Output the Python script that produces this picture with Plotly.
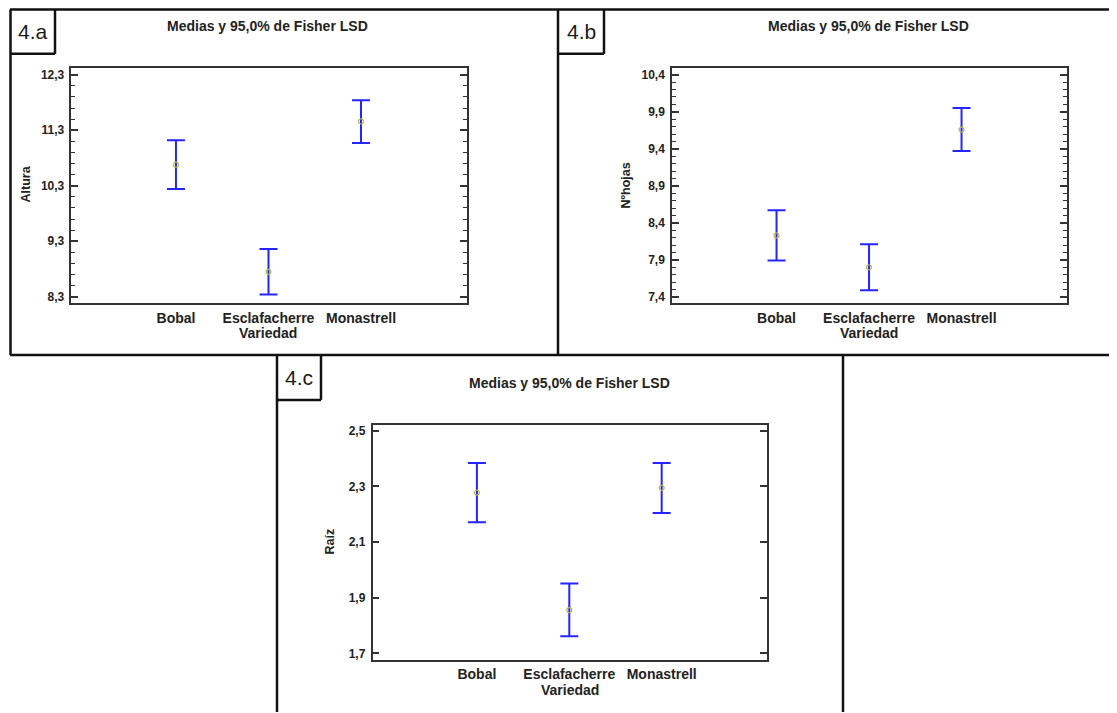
import plotly.graph_objects as go

# The page body adds an 8px margin, so the figure is offset by 8px and all
# reference pixel positions are shifted by that offset.
OFF = 8
W, H = 1117 - OFF, 713 - OFF

categories = ["Bobal", "Esclafacherre", "Monastrell"]
cat_pos = [1, 2, 3]

# Panel 4.a  (Altura)
altura_mean = [10.68, 8.75, 11.46]
altura_low = [10.24, 8.34, 11.07]
altura_high = [11.12, 9.16, 11.84]
altura_ticks = [8.3, 9.3, 10.3, 11.3, 12.3]

# Panel 4.b  (Nºhojas)
hojas_mean = [8.23, 7.80, 9.66]
hojas_low = [7.89, 7.49, 9.37]
hojas_high = [8.57, 8.11, 9.95]
hojas_ticks = [7.4, 7.9, 8.4, 8.9, 9.4, 9.9, 10.4]

# Panel 4.c  (Raíz)
raiz_mean = [2.278, 1.856, 2.295]
raiz_low = [2.171, 1.762, 2.205]
raiz_high = [2.384, 1.951, 2.384]
raiz_ticks = [1.7, 1.9, 2.1, 2.3, 2.5]

TXT = "#222222"
FONT = "Liberation Sans, Arial, sans-serif"


def px(x):
    return (x - OFF) / W


def py(y):
    return 1 - (y - OFF) / H


fig = go.Figure()

panels = [
    dict(mean=altura_mean, low=altura_low, high=altura_high, ticks=altura_ticks,
         yr=[8.18, 12.43], minor=0.2, xd=[71.4, 466.5], yd=[66.7, 303.3], ax=""),
    dict(mean=hojas_mean, low=hojas_low, high=hojas_high, ticks=hojas_ticks,
         yr=[7.311, 10.498], minor=0.1, xd=[672, 1067], yd=[66.7, 303.3], ax="2"),
    dict(mean=raiz_mean, low=raiz_low, high=raiz_high, ticks=raiz_ticks,
         yr=[1.677, 2.5215], minor=None, xd=[372.5, 767], yd=[425, 660.7], ax="3"),
]

for p in panels:
    plus = [h - m for h, m in zip(p["high"], p["mean"])]
    minus = [m - l for m, l in zip(p["mean"], p["low"])]
    fig.add_trace(go.Scatter(
        x=cat_pos, y=p["mean"], mode="markers",
        xaxis="x" + p["ax"], yaxis="y" + p["ax"],
        marker=dict(symbol="circle-open", size=5, color="#b5b54a",
                    line=dict(width=1.2, color="#b5b54a")),
        error_y=dict(type="data", symmetric=False, array=plus, arrayminus=minus,
                     color="#2424ff", thickness=2, width=9),
        showlegend=False, hoverinfo="skip",
    ))

layout = dict(
    width=W, height=H, autosize=False,
    margin=dict(l=0, r=0, t=0, b=0, pad=0),
    paper_bgcolor="white", plot_bgcolor="white",
    separators=",.",
    font=dict(family=FONT, color=TXT),
)

for p in panels:
    xa = "xaxis" + p["ax"]
    ya = "yaxis" + p["ax"]
    minor = None
    if p["minor"] is not None:
        minor = dict(dtick=p["minor"], tick0=p["ticks"][0], ticks="inside",
                     ticklen=4, tickcolor="#333333", tickwidth=1.2, showgrid=False)
    layout[xa] = dict(
        domain=[px(p["xd"][0]), px(p["xd"][1])],
        anchor="y" + p["ax"],
        range=[-0.13, 4.14],
        tickvals=cat_pos, ticktext=categories,
        ticks="", showgrid=False, zeroline=False,
        showline=True, linecolor="#333333", linewidth=1.5, mirror=True,
        tickfont=dict(size=14, family=FONT, color=TXT, weight="bold"),
        ticklabelstandoff=1,
    )
    ydict = dict(
        domain=[py(p["yd"][1]), py(p["yd"][0])],
        anchor="x" + p["ax"],
        range=p["yr"],
        tickvals=p["ticks"], tickformat=".1f",
        ticks="inside", ticklen=7, tickwidth=1.5, tickcolor="#333333",
        showgrid=False, zeroline=False,
        showline=True, linecolor="#333333", linewidth=1.5, mirror="allticks",
        tickfont=dict(size=12, family=FONT, color=TXT, weight="bold"),
        ticklabelstandoff=3,
    )
    if minor is not None:
        ydict["minor"] = minor
    layout[ya] = ydict

fig.update_layout(**layout)

ann = []
title_txt = "Medias y 95,0% de Fisher LSD"
for (x, y) in [(267, 25), (868, 25), (569, 383)]:
    ann.append(dict(x=px(x), y=py(y), xref="paper", yref="paper", text=title_txt,
                    showarrow=False, xanchor="center", yanchor="middle",
                    font=dict(size=14, family=FONT, color=TXT, weight="bold")))
for (x, y) in [(268, 333), (869, 333), (570, 691)]:
    ann.append(dict(x=px(x), y=py(y), xref="paper", yref="paper", text="Variedad",
                    showarrow=False, xanchor="center", yanchor="middle",
                    font=dict(size=14, family=FONT, color=TXT, weight="bold")))
for (x, y, t) in [(26, 184, "Altura"), (626, 185, "Nºhojas"), (330, 542, "Raíz")]:
    ann.append(dict(x=px(x), y=py(y), xref="paper", yref="paper", text=t,
                    textangle=-90, showarrow=False, xanchor="center", yanchor="middle",
                    font=dict(size=12.5, family=FONT, color=TXT, weight="bold")))
for (x, y, t) in [(32.5, 31, "4.a"), (581, 31, "4.b"), (299, 378, "4.c")]:
    ann.append(dict(x=px(x), y=py(y), xref="paper", yref="paper", text=t,
                    showarrow=False, xanchor="center", yanchor="middle",
                    font=dict(size=21, family=FONT, color="#1a1a1a")))
fig.update_layout(annotations=ann)

shapes = []
BL = dict(color="#111111", width=2.5)


def line(x0, y0, x1, y1):
    shapes.append(dict(type="line", xref="paper", yref="paper",
                       x0=px(x0), y0=py(y0), x1=px(x1), y1=py(y1), line=BL))


# frames of panels a and b
line(10, 8.5, 1117, 8.5)
line(10, 355, 1117, 355)
line(10.5, 8.5, 10.5, 355)
line(558, 8.5, 558, 355)
# panel c frame
line(277, 355, 277, 713)
line(843, 355, 843, 713)
# label boxes
line(55, 8.5, 55, 53)
line(10.5, 53, 55, 53)
line(604, 8.5, 604, 53)
line(558, 53, 604, 53)
line(321, 355, 321, 400)
line(277, 400, 321, 400)
fig.update_layout(shapes=shapes)

fig.write_html("out.html")
